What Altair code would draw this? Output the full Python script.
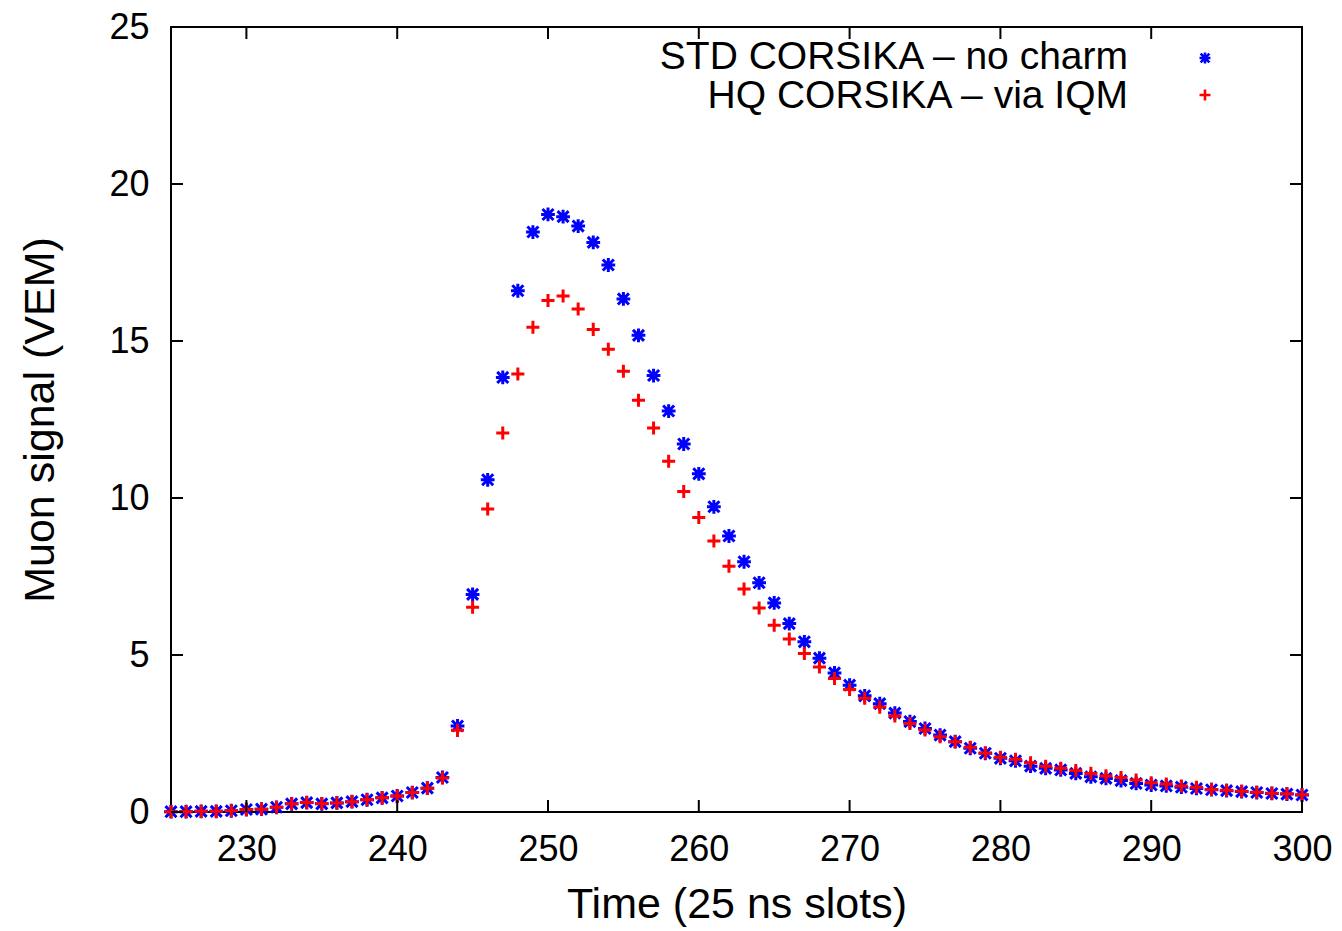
import altair as alt
import pandas as pd

# ---------------- data ----------------
time_slots = list(range(225, 301))

std_signal = [
    0.01, 0.01, 0.02, 0.02, 0.04, 0.08, 0.09, 0.15, 0.26, 0.30,
    0.26, 0.29, 0.33, 0.39, 0.45, 0.51, 0.62, 0.76, 1.10, 2.74,
    6.93, 10.58, 13.84, 16.60, 18.47, 19.03, 18.96, 18.66, 18.14, 17.42,
    16.34, 15.18, 13.90, 12.77, 11.72, 10.77, 9.72, 8.79, 7.97, 7.30,
    6.66, 6.00, 5.42, 4.90, 4.43, 4.04, 3.70, 3.45, 3.15, 2.88,
    2.66, 2.45, 2.24, 2.03, 1.87, 1.71, 1.63, 1.46, 1.39, 1.34,
    1.23, 1.12, 1.07, 1.00, 0.91, 0.86, 0.83, 0.79, 0.75, 0.71,
    0.68, 0.65, 0.62, 0.59, 0.57, 0.54,
]

hq_signal = [
    0.01, 0.01, 0.02, 0.02, 0.04, 0.08, 0.09, 0.15, 0.26, 0.30,
    0.27, 0.29, 0.33, 0.39, 0.45, 0.51, 0.62, 0.76, 1.08, 2.60,
    6.52, 9.65, 12.07, 13.95, 15.44, 16.29, 16.43, 16.02, 15.37, 14.74,
    14.04, 13.11, 12.23, 11.17, 10.21, 9.38, 8.63, 7.83, 7.10, 6.50,
    5.95, 5.51, 5.05, 4.62, 4.25, 3.90, 3.62, 3.34, 3.06, 2.82,
    2.61, 2.40, 2.24, 2.06, 1.88, 1.74, 1.68, 1.57, 1.46, 1.39,
    1.32, 1.23, 1.15, 1.10, 1.02, 0.93, 0.89, 0.83, 0.79, 0.72,
    0.69, 0.66, 0.63, 0.60, 0.58, 0.55,
]

x_ticks = [230, 240, 250, 260, 270, 280, 290, 300]
y_ticks = [0, 5, 10, 15, 20, 25]

label_std = "STD CORSIKA \u2013 no charm"
label_hq = "HQ CORSIKA \u2013 via IQM"

x_title = "Time (25 ns slots)"
y_title = "Muon signal (VEM)"

# ---------------- styling ----------------
W, H = 1131, 785
FONT = "Liberation Sans"
BLUE = "#0000ff"
RED = "#ff0000"
STAR = "M-1,0L1,0M0,-1L0,1M-0.8,-0.8L0.8,0.8M-0.8,0.8L0.8,-0.8"
PLUS = "M-1,0L1,0M0,-1L0,1"

df_std = pd.DataFrame({"time": time_slots, "signal": std_signal})
df_hq = pd.DataFrame({"time": time_slots, "signal": hq_signal})

xscale = alt.Scale(domain=[225, 300], nice=False, zero=False)
yscale = alt.Scale(domain=[0, 25], nice=False, zero=True)

x_axis = alt.Axis(
    values=x_ticks, tickSize=0, domain=False, grid=False,
    labelFont=FONT, labelFontSize=36, labelColor="black", labelPadding=20,
    labelFlush=False, labelOverlap=False,
    title=x_title, titleFont=FONT, titleFontSize=43, titleFontWeight="normal",
    titleColor="black", titlePadding=16,
)
y_axis = alt.Axis(
    values=y_ticks, tickSize=0, domain=False, grid=False,
    labelFont=FONT, labelFontSize=36, labelColor="black", labelPadding=22,
    labelFlush=False, labelOverlap=False,
    title=y_title, titleFont=FONT, titleFontSize=43, titleFontWeight="normal",
    titleColor="black", titlePadding=46,
)

X = alt.X("time:Q", scale=xscale, axis=x_axis)
Y = alt.Y("signal:Q", scale=yscale, axis=y_axis)

std_layer = alt.Chart(df_std).mark_point(
    shape=STAR, filled=False, size=190, strokeWidth=3, color=BLUE, opacity=1
).encode(x=X, y=Y)

hq_layer = alt.Chart(df_hq).mark_point(
    shape=PLUS, filled=False, size=170, strokeWidth=3, color=RED, opacity=1
).encode(x=X, y=Y)

# inward ticks (mirrored on all four sides, as in the original)
xt = pd.DataFrame({"time": x_ticks})
yt = pd.DataFrame({"signal": y_ticks})
tick_bottom = alt.Chart(xt).mark_rule(color="black", strokeWidth=2).encode(
    x=X, y=alt.value(H), y2=alt.value(H - 12))
tick_top = alt.Chart(xt).mark_rule(color="black", strokeWidth=2).encode(
    x=X, y=alt.value(0), y2=alt.value(12))
tick_left = alt.Chart(yt).mark_rule(color="black", strokeWidth=2).encode(
    y=Y, x=alt.value(0), x2=alt.value(12))
tick_right = alt.Chart(yt).mark_rule(color="black", strokeWidth=2).encode(
    y=Y, x=alt.value(W), x2=alt.value(W - 12))

# legend (top right, labels right-aligned, symbols to their right)
leg_txt1 = alt.Chart(pd.DataFrame({"l": [label_std]})).mark_text(
    align="right", baseline="alphabetic", font=FONT, fontSize=39, color="black"
).encode(text="l:N", x=alt.value(957), y=alt.value(42))
leg_txt2 = alt.Chart(pd.DataFrame({"l": [label_hq]})).mark_text(
    align="right", baseline="alphabetic", font=FONT, fontSize=39, color="black"
).encode(text="l:N", x=alt.value(957), y=alt.value(81))
leg_sym1 = alt.Chart(pd.DataFrame({"l": [label_std]})).mark_point(
    shape=STAR, filled=False, size=120, strokeWidth=2.6, color=BLUE, opacity=1
).encode(x=alt.value(1034), y=alt.value(31))
leg_sym2 = alt.Chart(pd.DataFrame({"l": [label_hq]})).mark_point(
    shape=PLUS, filled=False, size=120, strokeWidth=2.6, color=RED, opacity=1
).encode(x=alt.value(1034), y=alt.value(68))

chart = alt.layer(
    std_layer, hq_layer,
    tick_bottom, tick_top, tick_left, tick_right,
    leg_txt1, leg_txt2, leg_sym1, leg_sym2,
).properties(
    width=W, height=H,
    autosize=alt.AutoSizeParams(type="none"),
    padding={"left": 171, "top": 27, "right": 40, "bottom": 119},
    background="white",
).configure_view(
    stroke="black", strokeWidth=2, fill="white"
)

chart.save("out.html", embed_options={"renderer": "svg", "actions": False})
